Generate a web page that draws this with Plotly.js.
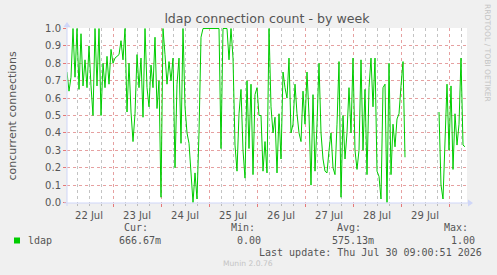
<!DOCTYPE html>
<html>
<head>
<meta charset="utf-8">
<script src="https://cdn.plot.ly/plotly-3.0.1.min.js"></script>
<style>html,body{margin:0;padding:0;background:#F0F0F0;}#chart{width:497px;height:275px;}</style>
</head>
<body>
<div id="chart"></div>
<script>
// ---- data (hourly samples) ----
const seriesName = "ldap";
const startTime = "2026-07-22T01:00:00";
const stepHours = 1;
const values = [
  0.75,0.64,0.72,1.0,0.72,1.0,0.65,0.97,0.67,0.82,0.66,0.90,0.67,0.50,1.0,0.67,1.0,0.50,0.80,0.66,0.84,0.68,0.88,0.80,0.83,0.84,0.85,0.93,0.82,1.0,0.52,0.80,0.52,0.35,
  0.51,0.85,0.66,0.83,0.49,1.0,0.66,0.55,0.79,0.66,0.95,0.54,0.70,0.03,1.0,0.85,0.68,0.81,0.70,0.83,0.20,0.68,0.83,0.34,1.0,0.55,0.40,0.34,0.15,0.00,0.17,0.02,0.40,0.95,
  1,1,1,1,1,1,1,1,1,0.31,1,1,1,0.82,1,0.83,0.33,0.18,0.51,0.65,0.30,0.14,0.70,0.31,0.68,0.16,0.62,0.66,0.50,0.50,0.18,0.35,0.17,1.0,
  0.55,0.40,0.49,0.17,0.51,0.25,0.75,0.66,0.60,0.83,0.40,0.45,0.68,0.51,0.40,0.35,0.64,0.45,0.75,0.50,0.10,0.62,0.18,0.45,0.80,0.40,0.25,0.18,0.17,0.30,0.40,0.20,0.16,0.45,
  0.81,0.03,0.50,0.25,0.40,0.66,0.40,0.83,0.30,0.19,0.30,0.82,0.30,0.65,0.16,0.66,0.83,0.55,0.83,0.18,0.15,0.02,0.66,0.68,0.00,0.80,0.16,0.45,0.32,0.48,0.51,0.67,0.81,0.26,
  null,null,null,null,null,null,null,null,null,null,null,null,null,null,null,null,
  0.52,0.10,0.02,0.34,0.68,0.30,0.67,0.19,0.51,0.33,0.45,0.83,0.33,0.32
];
const xRange = ["2026-07-22 01:00", "2026-07-30 09:00"];
const statLabels = ["Cur:", "Min:", "Avg:", "Max:"];
const statValues = ["666.67m", "0.00", "575.13m", "1.00"];
const lastUpdate = "Last update: Thu Jul 30 09:00:51 2026";
const titleText = "ldap connection count - by week";
const yTitle = "concurrent connections";

// ---- build ----
const t0 = new Date(startTime).getTime();
const times = values.map((_, i) => {
  const d = new Date(t0 + i * stepHours * 3600000);
  const p = n => String(n).padStart(2, "0");
  return `${d.getFullYear()}-${p(d.getMonth()+1)}-${p(d.getDate())} ${p(d.getHours())}:${p(d.getMinutes())}`;
});

const L = 67, R = 467, T = 28, B = 203;
const px = x => (x - L) / (R - L);
const py = y => (B - y) / (B - T);

const TXT = "#555555";
const MONO = "DejaVu Sans Mono";
const SANS = "DejaVu Sans";
const AXISC = "#CFD6F8";
const GREEN = "#00CC00";
const MAJ = "rgba(220,120,120,0.7)";
const MIN = "rgba(170,170,170,0.7)";

const trace = {
  x: times, y: values, type: "scatter", mode: "lines",
  line: { color: GREEN, width: 1 }, connectgaps: false, hoverinfo: "skip", showlegend: false
};

const statLabelRight = [150, 257, 363, 470];
const statValueRight = [163, 263, 376, 477];
const annotations = [];
statLabels.forEach((s, i) => annotations.push({
  text: s, xref: "paper", yref: "paper", x: px(statLabelRight[i]), y: py(227),
  xanchor: "right", yanchor: "middle", showarrow: false, font: { family: MONO, size: 10, color: TXT }
}));
statValues.forEach((s, i) => annotations.push({
  text: s, xref: "paper", yref: "paper", x: px(statValueRight[i]), y: py(240),
  xanchor: "right", yanchor: "middle", showarrow: false, font: { family: MONO, size: 10, color: TXT }
}));
annotations.push({ text: seriesName, xref: "paper", yref: "paper", x: px(26), y: py(240),
  xanchor: "left", yanchor: "middle", showarrow: false, font: { family: MONO, size: 10, color: TXT } });
annotations.push({ text: lastUpdate, xref: "paper", yref: "paper", x: px(484), y: py(252),
  xanchor: "right", yanchor: "middle", showarrow: false, font: { family: MONO, size: 10, color: TXT } });
annotations.push({ text: "Munin 2.0.76", xref: "paper", yref: "paper", x: px(248), y: py(263),
  xanchor: "center", yanchor: "middle", showarrow: false, font: { family: SANS, size: 7.6, color: "#C4C4C4" } });
annotations.push({ text: "RRDTOOL / TOBI OETIKER", xref: "paper", yref: "paper", x: px(488), y: py(53),
  xanchor: "center", yanchor: "middle", textangle: 90, showarrow: false, font: { family: SANS, size: 7.6, color: "#C4C4C4" } });
annotations.push({ text: yTitle, xref: "paper", yref: "paper", x: px(12), y: py(115.5),
  xanchor: "center", yanchor: "middle", textangle: -90, showarrow: false, font: { family: SANS, size: 11, color: TXT } });

const shapes = [
  // legend swatch
  { type: "rect", xref: "paper", yref: "paper", x0: px(14), x1: px(20), y0: py(243.5), y1: py(237.5),
    fillcolor: GREEN, line: { width: 0 } },
  // axis lines
  { type: "line", xref: "paper", yref: "paper", x0: px(64), x1: px(470), y0: 0, y1: 0, line: { color: AXISC, width: 1 }, layer: "above" },
  { type: "line", xref: "paper", yref: "paper", x0: 0, x1: 0, y0: py(206), y1: py(24), line: { color: AXISC, width: 1 }, layer: "above" },
  // arrow heads
  { type: "path", xref: "paper", yref: "paper", path: `M ${px(468)} ${py(199.5)} L ${px(473)} ${py(203)} L ${px(468)} ${py(206.5)} Z`,
    fillcolor: AXISC, line: { width: 0 }, layer: "above" },
  { type: "path", xref: "paper", yref: "paper", path: `M ${px(63.5)} ${py(27)} L ${px(67)} ${py(22)} L ${px(70.5)} ${py(27)} Z`,
    fillcolor: AXISC, line: { width: 0 }, layer: "above" }
];

const layout = {
  width: 497, height: 275,
  margin: { l: L, r: 497 - R, t: T, b: 275 - B, pad: 0 },
  paper_bgcolor: "#F0F0F0", plot_bgcolor: "#FFFFFF",
  showlegend: false,
  title: { text: titleText, font: { family: SANS, size: 12.6, color: TXT }, x: 0.5, xanchor: "center", y: 1 - 18.5 / 275, yanchor: "middle", xref: "paper" },
  xaxis: {
    type: "date", range: xRange, fixedrange: true,
    tick0: "2026-07-22 00:00", dtick: 86400000, ticklabelmode: "period", tickformat: "%d %b",
    showgrid: true, gridcolor: MAJ, griddash: "dot", gridwidth: 1,
    ticks: "outside", ticklen: 3, tickcolor: "rgba(230,120,120,1)", tickwidth: 1,
    tickfont: { family: SANS, size: 10, color: TXT },
    showline: false, zeroline: false,
    minor: { dtick: 6 * 3600000, showgrid: true, gridcolor: MIN, griddash: "dot", gridwidth: 1, ticks: "outside", ticklen: 2, tickcolor: "#BBBBBB" }
  },
  yaxis: {
    range: [-0.003, 1.003], fixedrange: true, tick0: 0, dtick: 0.1, tickformat: ".1f",
    showgrid: true, gridcolor: MAJ, griddash: "dot", gridwidth: 1,
    ticks: "outside", ticklen: 3, tickcolor: "rgba(230,120,120,1)",
    tickfont: { family: SANS, size: 10, color: TXT },
    showline: false, zeroline: false
  },
  annotations, shapes
};

Plotly.newPlot("chart", [trace], layout, { staticPlot: true, displayModeBar: false });
</script>
</body>
</html>
